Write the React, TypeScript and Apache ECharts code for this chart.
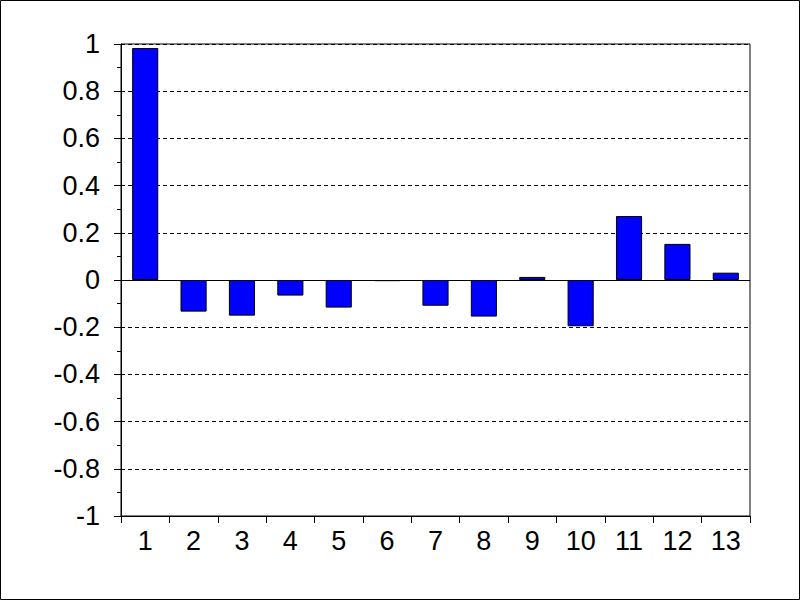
import React, { useEffect, useRef } from "react";
import * as echarts from "echarts";

const categories = ["1", "2", "3", "4", "5", "6", "7", "8", "9", "10", "11", "12", "13"];
const values = [0.983, -0.134, -0.151, -0.066, -0.117, -0.005, -0.109, -0.155, 0.013, -0.196, 0.271, 0.153, 0.031];

export default function App() {
  const ref = useRef<HTMLDivElement>(null);
  useEffect(() => {
    if (!ref.current) return;
    const chart = echarts.init(ref.current, null, { renderer: "svg" });
    chart.setOption({
      animation: false,
      backgroundColor: "#fff",
      graphic: [
        {
          type: "rect",
          shape: { x: 0.5, y: 0.5, width: 799, height: 599 },
          style: { fill: "none", stroke: "#000", lineWidth: 1 },
          z: 100,
        },
      ],
      grid: {
        left: 121,
        right: 50,
        top: 44,
        bottom: 84,
        show: true,
        borderColor: "#000",
        borderWidth: 1,
        backgroundColor: "transparent",
      },
      xAxis: {
        type: "category",
        data: categories,
        axisLine: { onZero: false, lineStyle: { color: "#000", width: 1 } },
        axisTick: { show: true, alignWithLabel: false, length: 7, lineStyle: { color: "#000" } },
        axisLabel: {
          color: "#000",
          fontFamily: "Liberation Sans, Arial, sans-serif",
          fontSize: 27,
          margin: 11,
          interval: 0,
        },
        splitLine: { show: false },
      },
      yAxis: {
        type: "value",
        min: -1,
        max: 1,
        interval: 0.2,
        axisLine: { show: true, lineStyle: { color: "#000", width: 1 } },
        axisTick: { show: true, length: 7, lineStyle: { color: "#000" } },
        minorTick: { show: true, splitNumber: 2, length: 4, lineStyle: { color: "#000" } },
        axisLabel: {
          color: "#000",
          fontFamily: "Liberation Sans, Arial, sans-serif",
          fontSize: 27,
          margin: 21,
        },
        splitLine: {
          show: true,
          lineStyle: { color: "#000", type: [4, 3], width: 1 },
        },
      },
      series: [
        {
          type: "bar",
          data: values,
          barWidth: "54%",
          itemStyle: { color: "#0000ff", borderColor: "#000", borderWidth: 1 },
          markLine: {
            silent: true,
            symbol: "none",
            label: { show: false },
            lineStyle: { color: "#000", type: "solid", width: 1 },
            data: [{ yAxis: 0 }],
            z: 1,
          },
        },
      ],
    });
    return () => chart.dispose();
  }, []);
  return (
    <div
      ref={ref}
      style={{ position: "fixed", left: 0, top: 0, width: 800, height: 600 }}
    />
  );
}
